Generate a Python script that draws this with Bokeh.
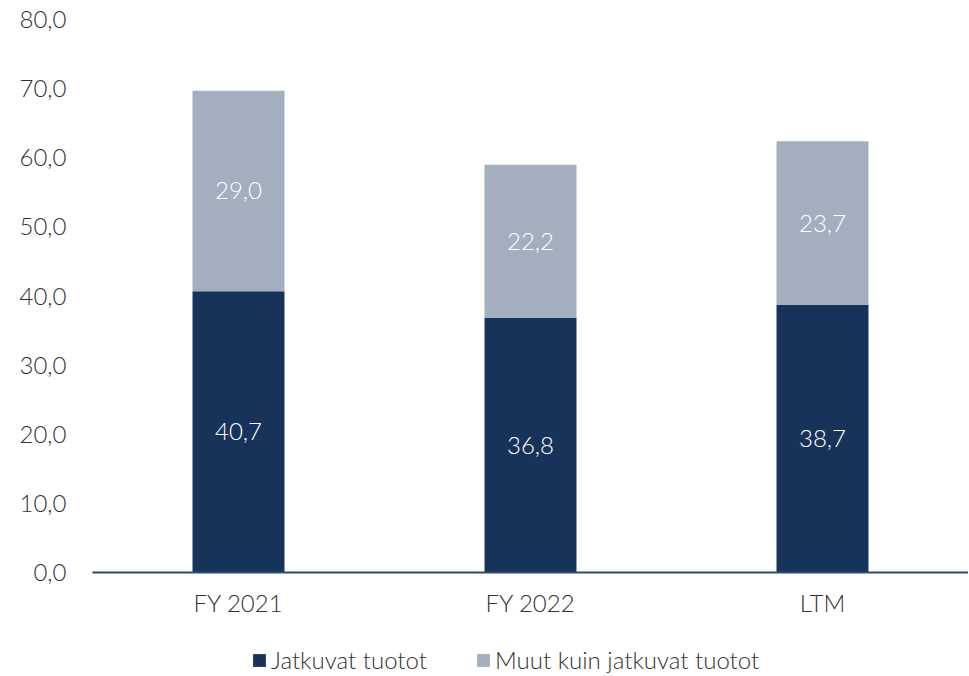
from bokeh.plotting import figure
from bokeh.layouts import column
from bokeh.models import ColumnDataSource, FixedTicker, Legend, LegendItem, LabelSet
from bokeh.core.properties import value
from bokeh.embed import file_html
from bokeh.resources import INLINE

categories = ["FY 2021", "FY 2022", "LTM"]
jatkuvat = [40.7, 36.8, 38.7]
muut = [29.0, 22.2, 23.7]
y_ticks = [0, 10, 20, 30, 40, 50, 60, 70, 80]
series_names = ["Jatkuvat tuotot", "Muut kuin jatkuvat tuotot"]

NAVY = "#17335A"
LIGHT = "#A3AEBE"
TEXT = "#333333"
FONT = "'Lato Light', Lato"

def fmt(v):
    return f"{v:.1f}".replace(".", ",")

src = ColumnDataSource(dict(
    cat=categories,
    j=jatkuvat,
    m=muut,
    j_mid=[v / 2 for v in jatkuvat],
    m_mid=[a + b / 2 for a, b in zip(jatkuvat, muut)],
    j_lab=[fmt(v) for v in jatkuvat],
    m_lab=[fmt(v) for v in muut],
))

p = figure(x_range=categories, y_range=(0, 80), width=968, height=624,
           output_backend="svg", toolbar_location=None,
           min_border_left=92, min_border_right=0, min_border_top=19,
           min_border_bottom=52)
p.outline_line_color = None
p.grid.grid_line_color = None
p.background_fill_color = "white"

r = p.vbar_stack(["j", "m"], x="cat", width=0.315, source=src,
                 color=[NAVY, LIGHT], line_color=None)

for col, lab in (("j_mid", "j_lab"), ("m_mid", "m_lab")):
    p.add_layout(LabelSet(x="cat", y=col, text=lab, source=src,
                          text_color="white", text_font=value(FONT),
                          text_font_size="24px", text_align="center",
                          text_baseline="middle"))

p.yaxis.ticker = FixedTicker(ticks=y_ticks)
p.yaxis.major_label_overrides = {t: fmt(t) for t in y_ticks}
p.yaxis.axis_line_color = None
p.yaxis.major_tick_line_color = None
p.yaxis.minor_tick_line_color = None
p.yaxis.major_label_standoff = 20
p.yaxis.major_label_text_font = FONT
p.yaxis.major_label_text_font_size = "24px"
p.yaxis.major_label_text_color = TEXT

p.xaxis.axis_line_color = "#2E4A70"
p.xaxis.axis_line_width = 2
p.xaxis.major_tick_line_color = None
p.xaxis.minor_tick_line_color = None
p.xaxis.major_label_standoff = 9
p.xaxis.major_label_text_font = FONT
p.xaxis.major_label_text_font_size = "24px"
p.xaxis.major_label_text_color = TEXT

# legend in its own strip below the chart (same series, drawn out of view)
lg = figure(width=968, height=52, output_backend="svg", toolbar_location=None,
            x_range=categories, y_range=(1000, 1001), min_border=0)
lg.axis.visible = False
lg.grid.grid_line_color = None
lg.outline_line_color = None
rl = lg.vbar_stack(["j", "m"], x="cat", width=0.315, source=src,
                   color=[NAVY, LIGHT], line_color=None)
legend = Legend(items=[LegendItem(label=series_names[0], renderers=[rl[0]]),
                       LegendItem(label=series_names[1], renderers=[rl[1]])],
                orientation="horizontal", location=(159, 2),
                glyph_width=16, glyph_height=16, spacing=48,
                label_text_font=FONT, label_text_font_size="24px",
                label_text_color=TEXT, label_standoff=4,
                border_line_color=None, background_fill_alpha=0,
                margin=0, padding=4)
lg.add_layout(legend)

open("out.html", "w").write(file_html(column(p, lg, spacing=0), INLINE))
